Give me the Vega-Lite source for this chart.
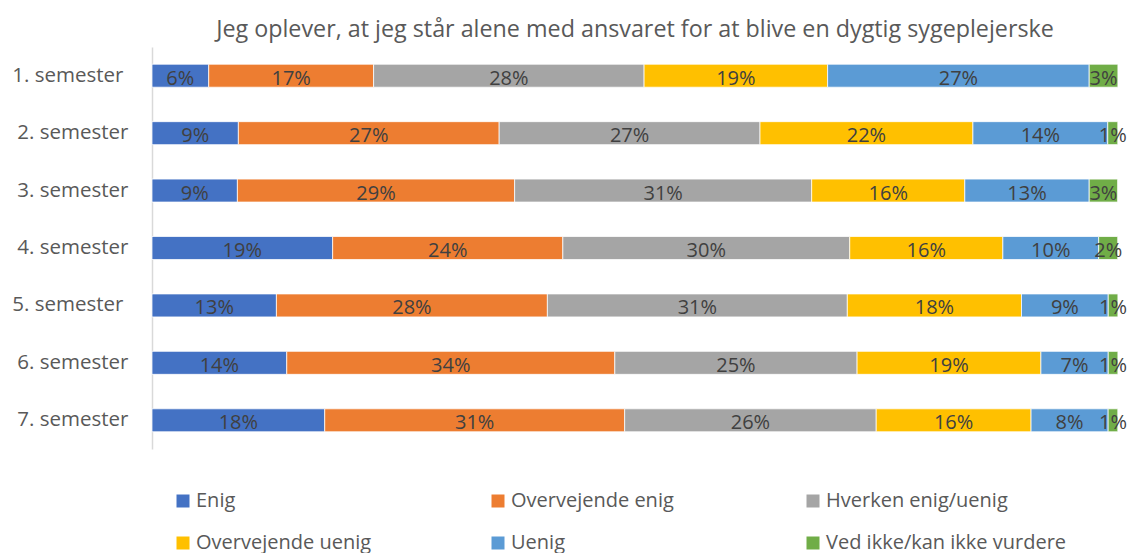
{
  "$schema": "https://vega.github.io/schema/vega-lite/v6.json",
  "width": 966,
  "height": 402,
  "autosize": {"type": "none"},
  "padding": {"left": 152, "top": 47, "right": 11, "bottom": 104},
  "background": "white",
  "config": {"font": "Open Sans", "view": {"stroke": null}},
  "title": {
    "text": "Jeg oplever, at jeg står alene med ansvaret for at blive en dygtig sygeplejerske",
    "fontSize": 23.3,
    "fontWeight": "normal",
    "color": "#595959",
    "anchor": "middle",
    "frame": "group",
    "baseline": "alphabetic",
    "offset": 11,
    "dy": 24
  },
  "data": {
    "values": [
      {"s": "1. semester", "c": "Enig", "o": 1, "v": 0.0587},
      {"s": "1. semester", "c": "Overvejende enig", "o": 2, "v": 0.1707},
      {"s": "1. semester", "c": "Hverken enig/uenig", "o": 3, "v": 0.2800},
      {"s": "1. semester", "c": "Overvejende uenig", "o": 4, "v": 0.1900},
      {"s": "1. semester", "c": "Uenig", "o": 5, "v": 0.2708},
      {"s": "1. semester", "c": "Ved ikke/kan ikke vurdere", "o": 6, "v": 0.0297},
      {"s": "2. semester", "c": "Enig", "o": 1, "v": 0.0894},
      {"s": "2. semester", "c": "Overvejende enig", "o": 2, "v": 0.2700},
      {"s": "2. semester", "c": "Hverken enig/uenig", "o": 3, "v": 0.2700},
      {"s": "2. semester", "c": "Overvejende uenig", "o": 4, "v": 0.2204},
      {"s": "2. semester", "c": "Uenig", "o": 5, "v": 0.1396},
      {"s": "2. semester", "c": "Ved ikke/kan ikke vurdere", "o": 6, "v": 0.0104},
      {"s": "3. semester", "c": "Enig", "o": 1, "v": 0.0884},
      {"s": "3. semester", "c": "Overvejende enig", "o": 2, "v": 0.2870},
      {"s": "3. semester", "c": "Hverken enig/uenig", "o": 3, "v": 0.3075},
      {"s": "3. semester", "c": "Overvejende uenig", "o": 4, "v": 0.1585},
      {"s": "3. semester", "c": "Uenig", "o": 5, "v": 0.1288},
      {"s": "3. semester", "c": "Ved ikke/kan ikke vurdere", "o": 6, "v": 0.0294},
      {"s": "4. semester", "c": "Enig", "o": 1, "v": 0.1870},
      {"s": "4. semester", "c": "Overvejende enig", "o": 2, "v": 0.2383},
      {"s": "4. semester", "c": "Hverken enig/uenig", "o": 3, "v": 0.2970},
      {"s": "4. semester", "c": "Overvejende uenig", "o": 4, "v": 0.1585},
      {"s": "4. semester", "c": "Uenig", "o": 5, "v": 0.0992},
      {"s": "4. semester", "c": "Ved ikke/kan ikke vurdere", "o": 6, "v": 0.0197},
      {"s": "5. semester", "c": "Enig", "o": 1, "v": 0.1288},
      {"s": "5. semester", "c": "Overvejende enig", "o": 2, "v": 0.2805},
      {"s": "5. semester", "c": "Hverken enig/uenig", "o": 3, "v": 0.3105},
      {"s": "5. semester", "c": "Overvejende uenig", "o": 4, "v": 0.1803},
      {"s": "5. semester", "c": "Uenig", "o": 5, "v": 0.0898},
      {"s": "5. semester", "c": "Ved ikke/kan ikke vurdere", "o": 6, "v": 0.0100},
      {"s": "6. semester", "c": "Enig", "o": 1, "v": 0.1395},
      {"s": "6. semester", "c": "Overvejende enig", "o": 2, "v": 0.3396},
      {"s": "6. semester", "c": "Hverken enig/uenig", "o": 3, "v": 0.2508},
      {"s": "6. semester", "c": "Overvejende uenig", "o": 4, "v": 0.1903},
      {"s": "6. semester", "c": "Uenig", "o": 5, "v": 0.0697},
      {"s": "6. semester", "c": "Ved ikke/kan ikke vurdere", "o": 6, "v": 0.0100},
      {"s": "7. semester", "c": "Enig", "o": 1, "v": 0.1788},
      {"s": "7. semester", "c": "Overvejende enig", "o": 2, "v": 0.3105},
      {"s": "7. semester", "c": "Hverken enig/uenig", "o": 3, "v": 0.2604},
      {"s": "7. semester", "c": "Overvejende uenig", "o": 4, "v": 0.1603},
      {"s": "7. semester", "c": "Uenig", "o": 5, "v": 0.0798},
      {"s": "7. semester", "c": "Ved ikke/kan ikke vurdere", "o": 6, "v": 0.0100}
    ]
  },
  "transform": [
    {"stack": "v", "groupby": ["s"], "sort": [{"field": "o"}], "as": ["x0", "x1"]},
    {"calculate": "(datum.x0 + datum.x1) / 2", "as": "mid"}
  ],
  "encoding": {
    "y": {
      "field": "s",
      "type": "nominal",
      "sort": null,
      "scale": {"paddingInner": 0.6, "paddingOuter": 0.3},
      "axis": {
        "title": null,
        "ticks": false,
        "domain": true,
        "domainColor": "#d9d9d9",
        "domainWidth": 1.5,
        "grid": false,
        "labelFontSize": 20.5,
        "labelColor": "#595959",
        "labelPadding": {
          "condition": {"test": "datum.value === '1. semester' || datum.value === '5. semester'", "value": 29},
          "value": 24
        },
        "labelLimit": 300
      }
    }
  },
  "layer": [
    {
      "mark": {"type": "bar", "stroke": "white", "strokeWidth": 0.75},
      "encoding": {
        "x": {"field": "x0", "type": "quantitative", "scale": {"domain": [0, 1], "nice": false, "zero": true}, "axis": null},
        "x2": {"field": "x1"},
        "color": {
          "field": "c",
          "type": "nominal",
          "scale": {
            "domain": ["Enig", "Overvejende enig", "Hverken enig/uenig", "Overvejende uenig", "Uenig", "Ved ikke/kan ikke vurdere"],
            "range": ["#4472C4", "#ED7D31", "#A5A5A5", "#FFC000", "#5B9BD5", "#70AD47"]
          },
          "legend": {
            "orient": "none",
            "legendX": 21,
            "legendY": 444,
            "direction": "horizontal",
            "columns": 3,
            "gridAlign": "all",
            "title": null,
            "padding": 0,
            "symbolType": "square",
            "symbolSize": 169,
            "symbolStrokeWidth": 0,
            "labelFontSize": 20,
            "labelColor": "#595959",
            "labelOffset": 3,
            "labelLimit": 400,
            "columnPadding": 51,
            "rowPadding": 22
          }
        }
      }
    },
    {
      "mark": {"type": "text", "fontSize": 20, "color": "#404040", "baseline": "alphabetic", "dy": 9},
      "encoding": {
        "x": {"field": "mid", "type": "quantitative"},
        "text": {"field": "v", "type": "quantitative", "format": ".0%"}
      }
    }
  ]
}
